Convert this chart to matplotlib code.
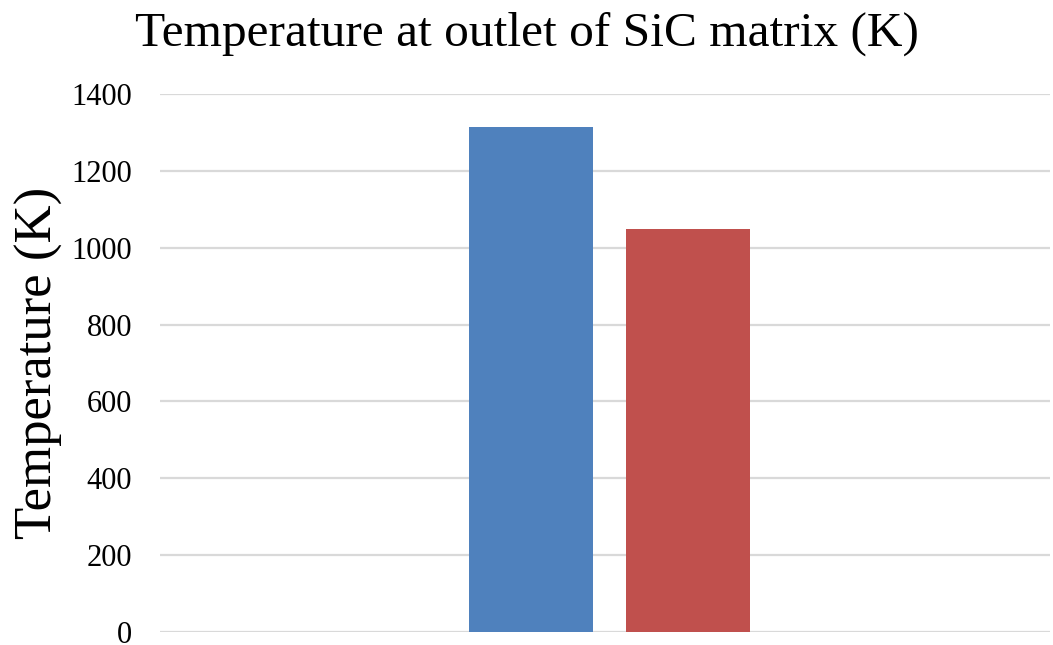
import matplotlib
matplotlib.use("Agg")
import matplotlib.pyplot as plt

# Outlet temperature of the SiC matrix, two cases side by side
series = ["Case 1", "Case 2"]
temperatures = [1315, 1050]
colours = ["#4F81BD", "#C0504D"]
y_ticks = [0, 200, 400, 600, 800, 1000, 1200, 1400]

plt.rcParams["font.family"] = ["Liberation Serif", "DejaVu Serif"]

fig = plt.figure(figsize=(10.53, 6.45), dpi=100)
ax = fig.add_axes([160 / 1053, 1 - 632 / 645, 890 / 1053, (632 - 94) / 645])

bar_w = 0.139
offsets = [-0.083, 0.093]
for name, temp, col, off in zip(series, temperatures, colours, offsets):
    ax.bar(off, temp, width=bar_w, color=col, label=name, zorder=3)

ax.set_xlim(-0.5, 0.5)
ax.set_ylim(0, 1400)
ax.set_yticks(y_ticks)
ax.set_xticks([])
ax.tick_params(axis="y", length=0, pad=20, labelsize=22)
ax.yaxis.grid(True, color="#D9D9D9", linewidth=1.6, zorder=0)
for side in ["top", "right", "left", "bottom"]:
    ax.spines[side].set_visible(False)

ax.set_ylabel("Temperature (K)", fontsize=38, labelpad=6)
fig.text(0.5, 1 - 34 / 645, "Temperature at outlet of SiC matrix (K)",
         ha="center", va="center", fontsize=35.6)

fig.savefig("out.png", dpi=100)
